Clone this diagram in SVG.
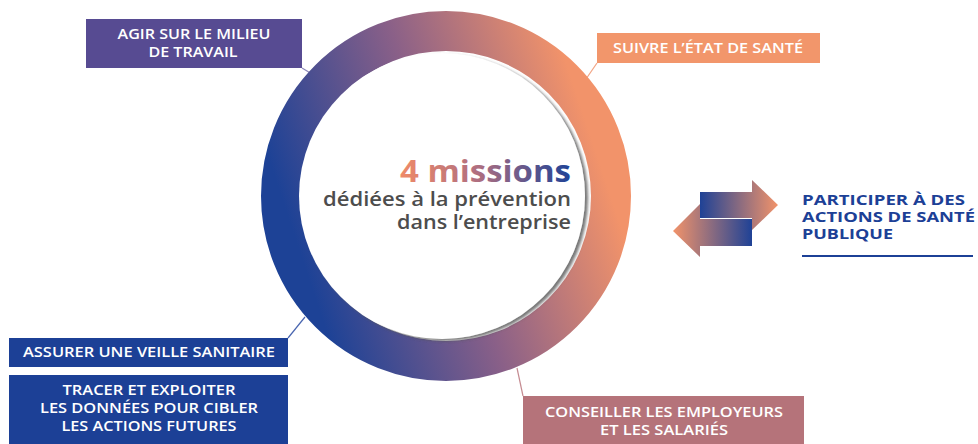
<svg xmlns="http://www.w3.org/2000/svg" width="978" height="444" viewBox="0 0 978 444">
<defs>
<linearGradient id="ring" x1="0.05" y1="0.65" x2="0.95" y2="0.35">
<stop offset="0" stop-color="#1d4296"/>
<stop offset="0.5" stop-color="#8a6088"/>
<stop offset="1" stop-color="#f2936a"/>
</linearGradient>
<linearGradient id="title" x1="0" y1="0" x2="1" y2="0">
<stop offset="0" stop-color="#ef8a68"/>
<stop offset="0.45" stop-color="#b06f80"/>
<stop offset="1" stop-color="#1f4296"/>
</linearGradient>
<linearGradient id="arR" gradientUnits="userSpaceOnUse" x1="700" y1="0" x2="778" y2="0">
<stop offset="0" stop-color="#1f4296"/>
<stop offset="1" stop-color="#f2936a"/>
</linearGradient>
<linearGradient id="arL" gradientUnits="userSpaceOnUse" x1="673" y1="0" x2="752" y2="0">
<stop offset="0" stop-color="#f2936a"/>
<stop offset="1" stop-color="#1f4296"/>
</linearGradient>
<filter id="sh" x="-10%" y="-10%" width="120%" height="120%">
<feDropShadow dx="3" dy="2" stdDeviation="1.8" flood-color="#555" flood-opacity="0.8"/>
</filter>
</defs>
<style>
.bt{font-family:"Open Sans","Liberation Sans",sans-serif;font-weight:600;font-size:14px;fill:#fff;text-anchor:middle}
.ct{font-family:"Open Sans","Liberation Sans",sans-serif;text-anchor:end}
.pt{font-family:"Open Sans","Liberation Sans",sans-serif;font-weight:700;font-size:14.5px;fill:#1c4096}
.ln{fill:none;stroke-width:1.2}
</style>
<g id="connectors">
<line class="ln" x1="302" y1="68" x2="312" y2="74" stroke="#8c86b8"/>
<line class="ln" x1="597" y1="63" x2="586" y2="79" stroke="#f2a585"/>
<line class="ln" x1="288" y1="338" x2="305" y2="317" stroke="#4a66b0"/>
<line class="ln" x1="523" y1="396" x2="517" y2="368" stroke="#c58c92"/>
</g>
<g id="ring-node">
<circle cx="446" cy="196" r="165" fill="none" stroke="url(#ring)" stroke-width="40"/>
<circle cx="442" cy="196" r="143" fill="#fff" filter="url(#sh)"/>
<text class="ct" x="571" y="182" font-weight="700" font-size="31" fill="url(#title)" textLength="171" lengthAdjust="spacingAndGlyphs">4 missions</text>
<text class="ct" x="571" y="206" font-weight="600" font-size="20" fill="#4d4d4d" textLength="248" lengthAdjust="spacingAndGlyphs">dédiées à la prévention</text>
<text class="ct" x="571" y="229" font-weight="600" font-size="20" fill="#4d4d4d" textLength="174" lengthAdjust="spacingAndGlyphs">dans l’entreprise</text>
</g>
<g id="agir">
<rect x="86" y="19" width="216" height="49" fill="#574b92"/>
<text class="bt" x="194" y="39" textLength="153" lengthAdjust="spacingAndGlyphs">AGIR SUR LE MILIEU</text>
<text class="bt" x="193" y="57" textLength="89" lengthAdjust="spacingAndGlyphs">DE TRAVAIL</text>
</g>
<g id="suivre">
<rect x="597" y="33" width="223" height="30" fill="#f2966b"/>
<text class="bt" x="708" y="53" textLength="190" lengthAdjust="spacingAndGlyphs">SUIVRE L’ÉTAT DE SANTÉ</text>
</g>
<g id="assurer">
<rect x="9" y="338" width="279" height="29" fill="#1c4096"/>
<text class="bt" x="149" y="357" textLength="252" lengthAdjust="spacingAndGlyphs">ASSURER UNE VEILLE SANITAIRE</text>
</g>
<g id="tracer">
<rect x="9" y="375" width="279" height="69" fill="#1c4096"/>
<text class="bt" x="149" y="395" textLength="173" lengthAdjust="spacingAndGlyphs">TRACER ET EXPLOITER</text>
<text class="bt" x="149" y="413" textLength="218" lengthAdjust="spacingAndGlyphs">LES DONNÉES POUR CIBLER</text>
<text class="bt" x="149" y="431" textLength="175" lengthAdjust="spacingAndGlyphs">LES ACTIONS FUTURES</text>
</g>
<g id="conseiller">
<rect x="523" y="396" width="281" height="48" fill="#b5737a"/>
<text class="bt" x="664" y="417" textLength="238" lengthAdjust="spacingAndGlyphs">CONSEILLER LES EMPLOYEURS</text>
<text class="bt" x="664" y="435" textLength="128" lengthAdjust="spacingAndGlyphs">ET LES SALARIÉS</text>
</g>
<g id="participer">
<polygon points="700,192 752,192 752,180 778,205 752,230 752,218 700,218" fill="url(#arR)"/>
<polygon points="752,219 752,246 700,246 700,257 673,231 700,204 700,219" fill="url(#arL)"/>
<text class="pt" x="802" y="205" textLength="163" lengthAdjust="spacingAndGlyphs">PARTICIPER À DES</text>
<text class="pt" x="802" y="222" textLength="173" lengthAdjust="spacingAndGlyphs">ACTIONS DE SANTÉ</text>
<text class="pt" x="802" y="238.5" textLength="91" lengthAdjust="spacingAndGlyphs">PUBLIQUE</text>
<line x1="802" y1="256" x2="973" y2="256" stroke="#1c4096" stroke-width="2"/>
</g>
</svg>
